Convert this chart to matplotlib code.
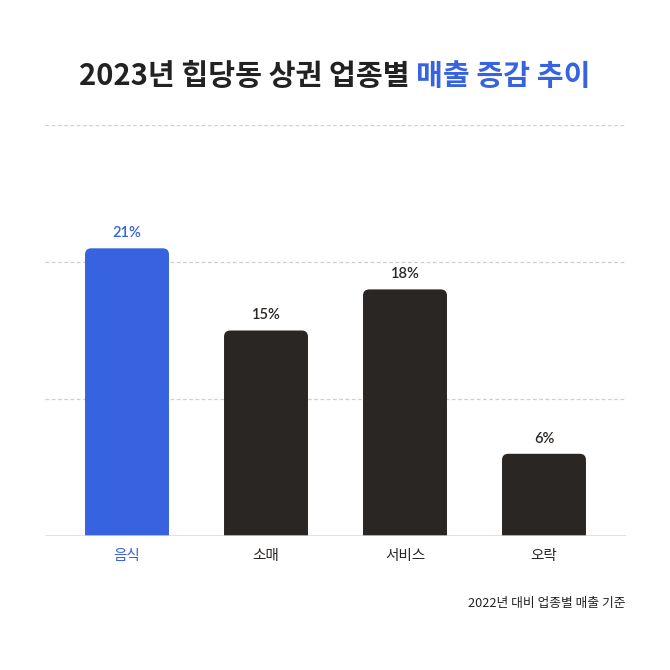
import matplotlib
matplotlib.use("Agg")
import matplotlib.pyplot as plt
from matplotlib.patches import FancyBboxPatch

plt.rcParams["font.family"] = ["Noto Sans CJK KR", "DejaVu Sans"]

categories = ["음식", "소매", "서비스", "오락"]
growth_pct = [21, 15, 18, 6]
highlight = "음식"
title_dark = "2023년 힙당동 상권 업종별 "
title_blue = "매출 증감 추이"
footnote = "2022년 대비 업종별 매출 기준"

BLUE = "#3762E0"
DARK = "#2A2623"

fig = plt.figure(figsize=(6.7, 6.7), dpi=100)
ax = fig.add_axes([45 / 670, 134 / 670, 581 / 670, 411 / 670])

x = list(range(len(categories)))
width = 0.604
bars = ax.bar(x, growth_pct, width, color="none")

# swap plain bars for ones with rounded tops
radius = 0.045
aspect = (10 / 137) / (1 / 139)
for bar, cat in zip(bars, categories):
    color = BLUE if cat == highlight else DARK
    patch = FancyBboxPatch(
        (bar.get_x(), -2),
        bar.get_width(),
        bar.get_height() + 2,
        boxstyle=f"round,pad=0,rounding_size={radius}",
        mutation_aspect=aspect,
        facecolor=color,
        edgecolor="none",
        zorder=3,
    )
    ax.add_patch(patch)
    ax.text(
        bar.get_x() + bar.get_width() / 2,
        bar.get_height() + 0.6,
        f"{bar.get_height():.0f}%",
        ha="center",
        va="bottom",
        fontsize=10.5,
        fontweight="semibold",
        family=["Lato", "Noto Sans CJK KR"],
        color=BLUE if cat == highlight else DARK,
    )

ax.set_xlim(-0.59, len(categories) - 1 + 0.59)
ax.set_ylim(0, 30)
ax.set_yticks([10, 20, 30])
ax.grid(axis="y", linestyle=(0, (3, 2)), color="#CFCFCF", linewidth=0.9, zorder=0)
ax.axhline(0, color="#D8D8D8", linewidth=1.8, zorder=4)

for side in ["top", "right", "left", "bottom"]:
    ax.spines[side].set_visible(False)
ax.tick_params(axis="y", left=False, labelleft=False)
ax.tick_params(axis="x", bottom=False, pad=6)
ax.set_xticks(x, categories, fontsize=10.5, fontweight="medium")
for label, cat in zip(ax.get_xticklabels(), categories):
    label.set_color(BLUE if cat == highlight else DARK)

# two-colour title, centred as a whole
t1 = fig.text(0, 1 - 76 / 670, title_dark, fontsize=21, fontweight="bold",
              color="#222222", va="center", ha="left")
t2 = fig.text(0, 1 - 76 / 670, title_blue, fontsize=21, fontweight="bold",
              color=BLUE, va="center", ha="left")
fig.canvas.draw()
renderer = fig.canvas.get_renderer()
w1 = t1.get_window_extent(renderer).width
w2 = t2.get_window_extent(renderer).width
start = (670 - (w1 + w2)) / 2
t1.set_x(start / 670)
t2.set_x((start + w1) / 670)

fig.text(626 / 670, 1 - 603 / 670, footnote, fontsize=9.2, color="#222222",
         ha="right", va="center")

fig.savefig("out.png", dpi=100, facecolor="white")
